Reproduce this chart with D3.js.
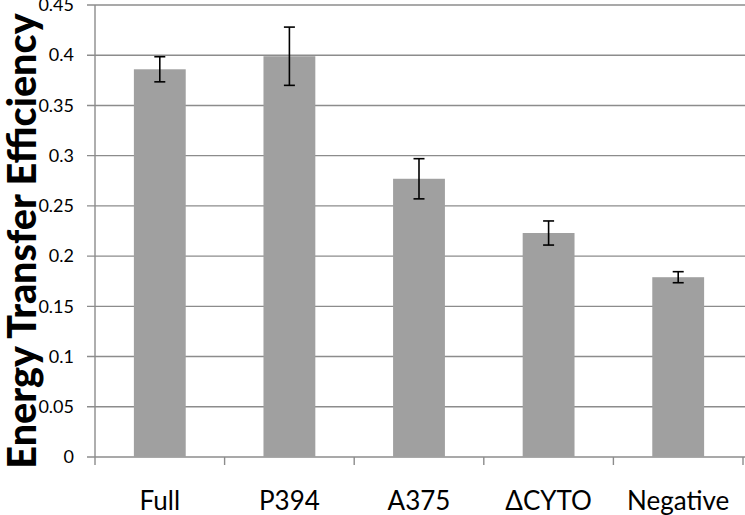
<!DOCTYPE html>
<html>
<head>
<meta charset="utf-8">
<script src="https://cdn.jsdelivr.net/npm/d3@7"></script>
<style>
  html, body { margin: 0; padding: 0; background: #fff; }
  svg { display: block; }
</style>
</head>
<body>
<script>
const categories = ["Full", "P394", "A375", "ΔCYTO", "Negative"];
const values = [0.386, 0.399, 0.277, 0.223, 0.179];
const errors = [0.0125, 0.029, 0.020, 0.012, 0.0055];
const yTickValues = [0, 0.05, 0.1, 0.15, 0.2, 0.25, 0.3, 0.35, 0.4, 0.45];
const yTitle = "Energy Transfer Efficiency";

const W = 745, H = 515;
const mLeft = 95, mRight = 743, mTop = 5, mBottom = 457;

const svg = d3.select("body").append("svg").attr("width", W).attr("height", H);

const y = d3.scaleLinear().domain([0, 0.45]).range([mBottom, mTop]);
const x = d3.scaleBand().domain(categories).range([mLeft, mRight])
  .paddingInner(0.6).paddingOuter(0.3);

const gridColor = "#8c8c8c";
const font = "Lato, 'Liberation Sans', sans-serif";

// gridlines (including the left tick stubs)
svg.append("g").selectAll("line").data(yTickValues).join("line")
  .attr("x1", mLeft - 8).attr("x2", W)
  .attr("y1", d => y(d)).attr("y2", d => y(d))
  .attr("stroke", gridColor).attr("stroke-width", 1.4);

// y axis line
svg.append("line").attr("x1", mLeft).attr("x2", mLeft)
  .attr("y1", mTop).attr("y2", mBottom + 8)
  .attr("stroke", gridColor).attr("stroke-width", 1.4);

// category boundary ticks on x axis
const step = x.step();
const boundaries = categories.map((c, i) => x(c) + x.bandwidth() / 2 + step / 2);
svg.append("g").selectAll("line").data(boundaries).join("line")
  .attr("x1", d => d).attr("x2", d => d)
  .attr("y1", mBottom).attr("y2", mBottom + 8)
  .attr("stroke", gridColor).attr("stroke-width", 1.4);

// y axis labels
const yAxis = d3.axisLeft(y).tickValues(yTickValues).tickFormat(d3.format("~g"))
  .tickSize(0).tickPadding(21);
const gy = svg.append("g").attr("transform", `translate(${mLeft},0)`).call(yAxis);
gy.select(".domain").remove();
gy.selectAll("text").attr("font-family", font).attr("font-size", 18).attr("fill", "#000");

// bars
const data = categories.map((c, i) => ({ c, v: values[i], e: errors[i] }));
svg.append("g").selectAll("rect").data(data).join("rect")
  .attr("x", d => x(d.c)).attr("width", x.bandwidth())
  .attr("y", d => y(d.v)).attr("height", d => y(0) - y(d.v))
  .attr("fill", "#a0a0a0");

// error bars
const eg = svg.append("g").attr("stroke", "#000").attr("stroke-width", 1.6);
data.forEach(d => {
  const cx = x(d.c) + x.bandwidth() / 2;
  eg.append("line").attr("x1", cx).attr("x2", cx).attr("y1", y(d.v + d.e)).attr("y2", y(d.v - d.e));
  eg.append("line").attr("x1", cx - 5.5).attr("x2", cx + 5.5).attr("y1", y(d.v + d.e)).attr("y2", y(d.v + d.e));
  eg.append("line").attr("x1", cx - 5.5).attr("x2", cx + 5.5).attr("y1", y(d.v - d.e)).attr("y2", y(d.v - d.e));
});

// x axis labels
const xAxis = d3.axisBottom(x).tickSize(0).tickPadding(0);
const gx = svg.append("g").attr("transform", `translate(0,${mBottom})`).call(xAxis);
gx.select(".domain").remove();
gx.selectAll("text").attr("font-family", font).attr("font-size", 26)
  .attr("fill", "#000").attr("y", 53).attr("dy", 0);

// y title
svg.append("text")
  .attr("transform", `translate(36,${241}) rotate(-90)`)
  .attr("text-anchor", "middle")
  .attr("font-family", font).attr("font-weight", 900).attr("font-size", 39.5)
  .attr("fill", "#000")
  .text(yTitle);
</script>
</body>
</html>
